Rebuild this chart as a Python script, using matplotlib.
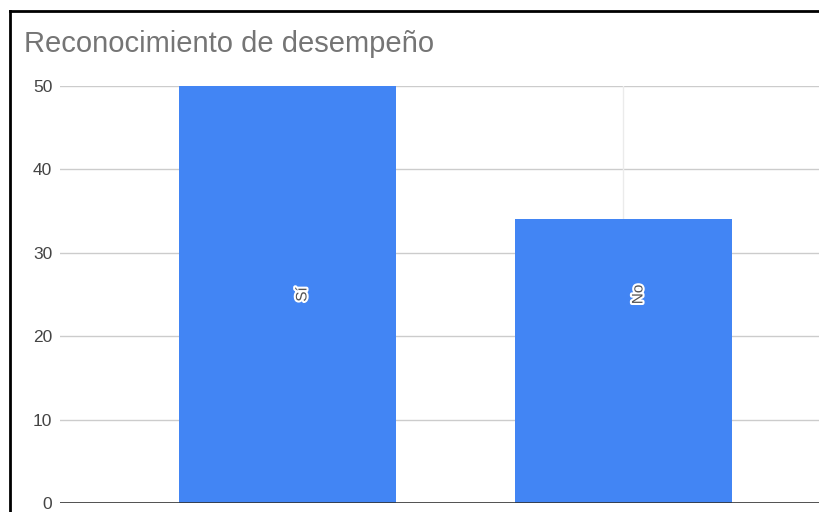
import numpy as np
import matplotlib.pyplot as plt
from matplotlib.lines import Line2D
import matplotlib.patheffects as pe

# values for the chart
categorias = ["Sí", "No"]
valores = [50, 34]
yticks = [0, 10, 20, 30, 40, 50]

plt.rcParams['font.family'] = ['Liberation Sans', 'DejaVu Sans']

W, H = 819, 512
fig = plt.figure(figsize=(W / 100, H / 100), dpi=100)

# plot area in pixels: left 60, top 86 (y=50), bottom 503 (y=0), runs off the right edge
left, right = 60, W
y0, y50 = 503, 86
ax = fig.add_axes([left / W, 1 - y0 / H, (right - left) / W, (y0 - y50) / H])

x = np.arange(len(categorias))
ax.set_xlim(-0.677, -0.677 + (right - left) / 336)
ax.set_ylim(0, 50)

# gridlines
for t in yticks[1:]:
    ax.axhline(t, color="#cccccc", lw=1, zorder=0)
ax.axvline(x[1], color="#ebebeb", lw=1, zorder=0)

ax.bar(x, valores, width=0.646, color="#4285f4", zorder=2)
ax.axhline(0, color="#333333", lw=1.2, zorder=3)

# category labels inside the bars
for xi, cat in zip(x, categorias):
    ax.annotate(cat, (xi, 25), xytext=(15, 0), textcoords="offset pixels",
                rotation=90, ha="center", va="center", fontsize=11,
                color="#555555", zorder=4,
                path_effects=[pe.withStroke(linewidth=3, foreground="white")])

ax.set_yticks(yticks)
ax.set_yticklabels([str(t) for t in yticks], fontsize=12.5, color="#444444")
ax.tick_params(axis="y", length=0, pad=5.5)
ax.set_xticks([])
for s in ax.spines.values():
    s.set_visible(False)

fig.text(24 / W, 1 - 52 / H, "Reconocimiento de desempeño", fontsize=21,
         color="#757575", ha="left", va="baseline")

# black frame on top and left
fig.add_artist(Line2D([10 / W, 1], [1 - 11 / H, 1 - 11 / H], color="black", lw=2))
fig.add_artist(Line2D([10 / W, 10 / W], [0, 1 - 11 / H], color="black", lw=2))

fig.savefig("out.png", dpi=100)
